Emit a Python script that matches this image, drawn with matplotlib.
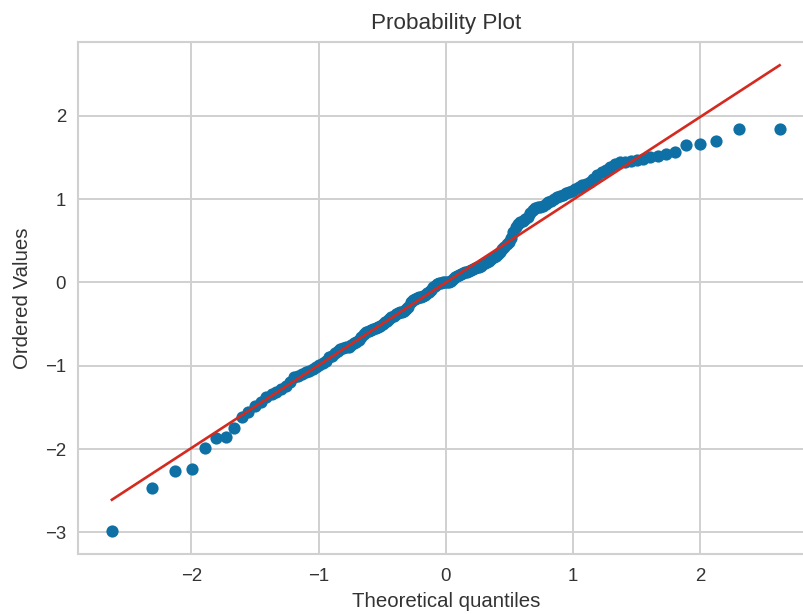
import numpy as np
import matplotlib
matplotlib.use("Agg")
import matplotlib.pyplot as plt
from statistics import NormalDist

# Ordered sample values
ordered_values = [
    -2.98, -2.47, -2.26, -2.24, -1.99, -1.87, -1.86, -1.75, -1.62, -1.55, -1.48,
    -1.43, -1.37, -1.34, -1.31, -1.28, -1.24, -1.20, -1.14, -1.12,
    -1.10, -1.08, -1.06, -1.04, -1.02, -0.99, -0.97, -0.94, -0.90, -0.88,
    -0.85, -0.82, -0.80, -0.79, -0.78, -0.77, -0.75, -0.73, -0.71, -0.69,
    -0.66, -0.62, -0.59, -0.58, -0.57, -0.56, -0.55, -0.54, -0.52, -0.50,
    -0.48, -0.46, -0.44, -0.42, -0.40, -0.38, -0.37, -0.36, -0.35, -0.34,
    -0.32, -0.29, -0.24, -0.21, -0.20, -0.19, -0.18, -0.17, -0.16, -0.15,
    -0.13, -0.11, -0.09, -0.06, -0.04, -0.02, -0.01, -0.01, 0.00, 0.00,
    0.00, 0.01, 0.02, 0.04, 0.06, 0.08, 0.09, 0.10, 0.11, 0.12,
    0.13, 0.14, 0.15, 0.16, 0.17, 0.18, 0.19, 0.20, 0.22, 0.23,
    0.24, 0.26, 0.28, 0.30, 0.32, 0.34, 0.37, 0.40, 0.43, 0.46,
    0.49, 0.53, 0.60, 0.66, 0.70, 0.72, 0.74, 0.76, 0.78, 0.83,
    0.87, 0.89, 0.90, 0.91, 0.92, 0.94, 0.96, 0.98, 1.00, 1.02,
    1.04, 1.05, 1.07, 1.09, 1.10, 1.12, 1.15, 1.17, 1.18, 1.20,
    1.24, 1.29, 1.32, 1.35, 1.38, 1.42, 1.44, 1.45, 1.46, 1.47,
    1.48, 1.50, 1.52, 1.54, 1.57, 1.65, 1.66, 1.70, 1.84, 1.84,
]
title_text = "Probability Plot"
x_label = "Theoretical quantiles"
y_label = "Ordered Values"
x_ticks = [-2, -1, 0, 1, 2]
y_ticks = [-3, -2, -1, 0, 1, 2]

# Theoretical quantiles (Filliben's order statistic medians, as in a probplot)
y = np.array(ordered_values)
n = len(y)
m = (np.arange(1, n + 1) - 0.3175) / (n + 0.365)
m[-1] = 0.5 ** (1.0 / n)
m[0] = 1 - m[-1]
nd = NormalDist()
osm = np.array([nd.inv_cdf(p) for p in m])
slope, intercept = np.polyfit(osm, y, 1)

plt.rcParams['font.family'] = ['Liberation Sans', 'DejaVu Sans']

fig = plt.figure(figsize=(8.04, 6.14), dpi=100)
ax = fig.add_axes([78.5 / 804, 60 / 614, (813 - 78.5) / 804, (554 - 42) / 614])

grid_c = "#d0d0d0"
ax.set_facecolor("white")
ax.grid(True, color=grid_c, linewidth=1.4)
ax.set_axisbelow(True)
for s in ax.spines.values():
    s.set_color(grid_c)
    s.set_linewidth(1.5)

ax.plot(osm, y, 'o', color="#0e70a5", markersize=8.8, markeredgewidth=0)
ax.plot(osm, slope * osm + intercept, '-', color="#d42a20", linewidth=1.9)

ax.set_xticks(x_ticks)
ax.set_yticks(y_ticks)
ax.set_xticklabels(["\u22122", "\u22121", "0", "1", "2"])
ax.set_yticklabels(["\u22123", "\u22122", "\u22121", "0", "1", "2"])
ax.tick_params(axis='x', length=0, labelsize=13.4, colors="#333333", pad=10)
ax.tick_params(axis='y', length=0, labelsize=13.4, colors="#333333", pad=9)
ax.set_xlabel(x_label, fontsize=14.7, color="#333333", labelpad=5)
ax.set_ylabel(y_label, fontsize=14.7, color="#333333", labelpad=9)
ax.set_title(title_text, fontsize=16.2, color="#333333", pad=9)

fig.savefig("out.png", dpi=100)
